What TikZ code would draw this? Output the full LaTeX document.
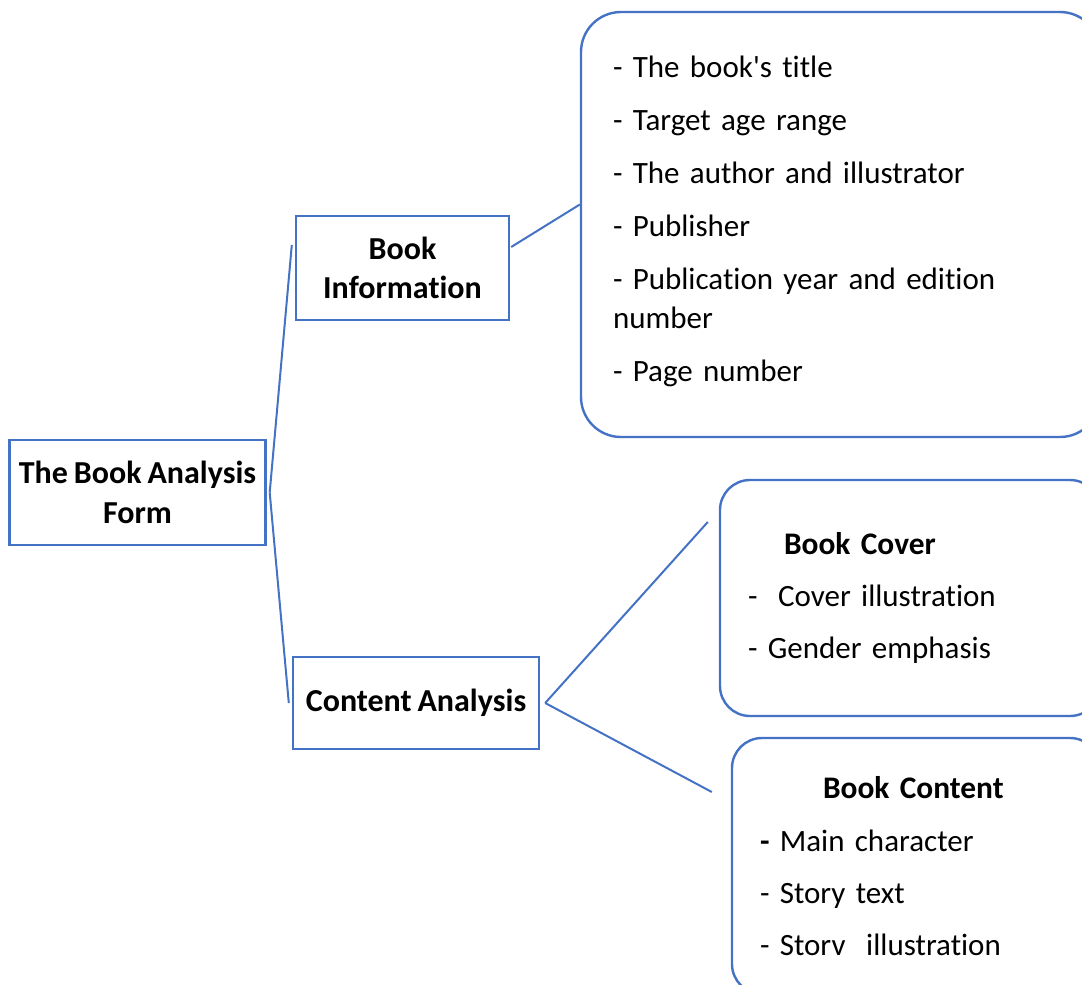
\documentclass[tikz,border=0pt]{standalone}
\usepackage{fontspec}
\setmainfont{Carlito}[Ligatures=NoCommon,WordSpace=0.82]
\usetikzlibrary{calc}
\definecolor{boxblue}{HTML}{4472C4}

\begin{document}
\begin{tikzpicture}[x=1pt,y=1pt,font=\fontsize{31}{39}\selectfont]
\tikzset{plainbox/.style={draw=boxblue,line width=2.4pt,inner sep=0pt,align=center,font=\bfseries\fontsize{32}{39}\selectfont},
  listbox/.style={draw=boxblue,line width=2.4pt,rounded corners=#1,align=left,inner ysep=0pt},
  link/.style={draw=boxblue,line width=2pt}}
\clip (0,0) rectangle (1082,-985);

\node[plainbox,minimum width=256pt,minimum height=105pt] (root) at (137.5,-492.5) {The Book Analysis\\[1pt]Form};
\node[plainbox,minimum width=213pt,minimum height=104pt] (bookinfo) at (402.5,-268) {Book\\Information};
\node[plainbox,minimum width=246pt,minimum height=92pt] (content) at (416,-703) {Content Analysis};

\node[listbox=40pt,inner xsep=32pt,text width=455pt,minimum height=425pt] (info) at (840.5,-224.5)
  {- The book\textquotesingle s title\\[14pt]- Target age range\\[14pt]- The author and illustrator\\[14pt]- Publisher\\[14pt]- Publication year and edition\\number\\[14pt]- Page number\rule[-12pt]{0pt}{0pt}};
\node[listbox=30pt,inner xsep=28pt,text width=324pt,minimum height=236pt] (cover) at (910,-598)
  {\hspace*{36pt}{\bfseries\fontsize{31.4}{39}\selectfont Book Cover}\\[13pt]-\ \ Cover illustration\\[13pt]- Gender emphasis};
\node[listbox=30pt,inner xsep=28pt,text width=312pt,minimum height=256pt] (bcontent) at (916,-866)
  {\hspace*{63pt}{\bfseries\fontsize{31.4}{39}\selectfont Book Content}\\[14pt]\textbf{-} Main character\\[13pt]- Story text\\[13pt]- Storv\ \ illustration};

\coordinate (jroot) at ($(root.east)+(3,0)$);
\coordinate (jcont) at ($(content.east)+(5,0)$);
\draw[link] (jroot) -- ($(bookinfo.west)+(-3,23)$);
\draw[link] (jroot) -- ($(content.west)+(-3,0)$);
\draw[link] ($(bookinfo.east)+(1,21)$) -- ($(info.west)+(0,20)$);
\draw[link] (jcont) -- ($(cover.west)+(-11,76)$);
\draw[link] (jcont) -- ($(bcontent.west)+(-19,74)$);
\end{tikzpicture}
\end{document}
